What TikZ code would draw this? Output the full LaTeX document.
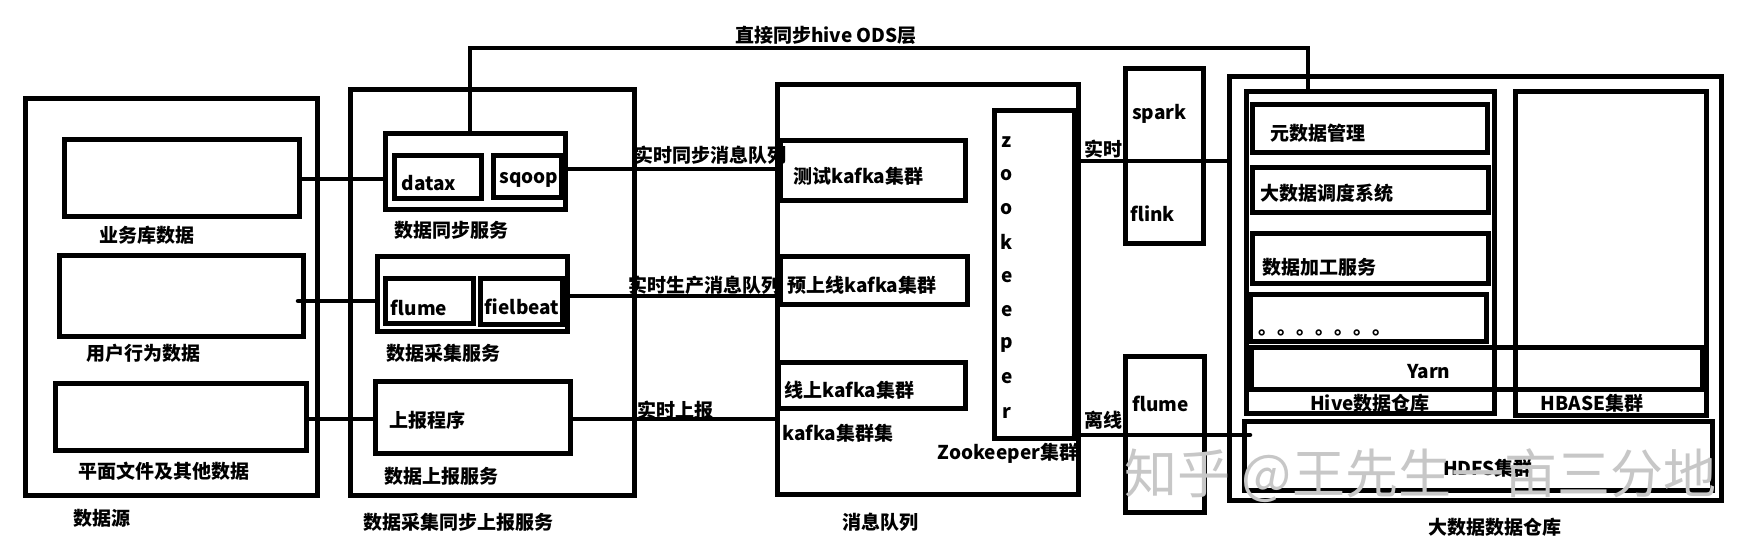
\documentclass[tikz,border=0pt]{standalone}
\usepackage{fontspec}
\setmainfont{Noto Sans CJK SC}
\newcommand\mybox[5]{\node[bx, minimum width={(#4-#2)*1pt}, minimum height={(#5-#3)*1pt}] (#1) at ({(#2+#4)/2},{(#3+#5)/2}) {};}
\begin{document}
\begin{tikzpicture}[x=1pt,y=-1pt,
  bx/.style={draw=black, line width=5pt, inner sep=0pt, outer sep=0pt, rectangle},
  conn/.style={draw=black, line width=4.5pt},
  lbl/.style={font=\bfseries\fontsize{19pt}{22pt}\selectfont, inner sep=0pt, text=black},
  wm/.style={font=\fontsize{53pt}{58pt}\selectfont, inner sep=0pt, text=black!22}]
\useasboundingbox[fill=white] (0,0) rectangle (1753,549);
% data sources
\mybox{src}{25}{98}{317}{495}
\mybox{ywk}{64}{139}{299}{216}
\mybox{yhxw}{59}{255}{303}{336}
\mybox{pmwj}{55}{383}{306}{450}
% collection services
\mybox{svc}{350}{89}{634}{495}
\mybox{tbfw}{385}{133}{565}{209}
\mybox{datax}{394}{155}{481}{198}
\mybox{sqoop}{493}{155}{561}{197}
\mybox{cjfw}{377}{256}{567}{331}
\mybox{flumea}{385}{278}{473}{323}
\mybox{fielbeat}{480}{278}{562}{324}
\mybox{sbcx}{375}{381}{570}{453}
% message queue
\mybox{mq}{777}{84}{1078}{494}
\mybox{zk}{994}{110}{1074}{438}
\mybox{csk}{780}{140}{965}{200}
\mybox{yux}{780}{256}{967}{304}
\mybox{xsk}{778}{362}{965}{408}
% compute
\mybox{spark}{1125}{68}{1203}{243}
\mybox{flumeb}{1125}{356}{1204}{512}
% warehouse
\mybox{dw}{1229}{76}{1721}{500}
\mybox{hive}{1246}{91}{1494}{413}
\mybox{hbase}{1515}{91}{1706}{415}
\mybox{meta}{1252}{104}{1487}{152}
\mybox{sched}{1252}{167}{1488}{212}
\mybox{proc}{1252}{233}{1488}{283}
\mybox{dots}{1250}{294}{1486}{341}
\mybox{yarn}{1251}{347}{1702}{389}
\mybox{hdfs}{1244}{421}{1712}{490}
% labels
\node[lbl] (l1) at (147,235) {业务库数据};
\node[lbl] (l2) at (143,353) {用户行为数据};
\node[lbl] (l3) at (164,471) {平面文件及其他数据};
\node[lbl] (l4) at (102,518) {数据源};
\node[lbl] (t1) at (429,183) {datax};
\node[lbl] (t2) at (529,180) {sqoop};
\node[lbl] (l5) at (451,230) {数据同步服务};
\node[lbl] (t3) at (419,308) {flume};
\node[lbl] (t4) at (522,307) {fielbeat};
\node[lbl] (l6) at (443,353) {数据采集服务};
\node[lbl] (t5) at (427,420) {上报程序};
\node[lbl] (l7) at (441,476) {数据上报服务};
\node[lbl] (l8) at (458,522) {数据采集同步上报服务};
\node[lbl] (e1) at (710,155) {实时同步消息队列};
\node[lbl] (e2) at (704,285) {实时生产消息队列};
\node[lbl] (e3) at (675,410) {实时上报};
\node[lbl] (e4) at (826,35) {直接同步hive ODS层};
\node[lbl, anchor=west] (t6) at (793,176) {测试kafka集群};
\node[lbl, anchor=west] (t7) at (787,285) {预上线kafka集群};
\node[lbl, anchor=west] (t8) at (784,390) {线上kafka集群};
\node[lbl, anchor=west] (t9) at (782,433) {kafka集群集};
\node[lbl] (l9) at (1008,453) {Zookeeper集群};
\node[lbl] (z1) at (1007,142) {z};
\node[lbl] (z2) at (1007,175) {o};
\node[lbl] (z3) at (1007,209) {o};
\node[lbl] (z4) at (1007,242) {k};
\node[lbl] (z5) at (1007,277) {e};
\node[lbl] (z6) at (1007,311) {e};
\node[lbl] (z7) at (1007,345) {p};
\node[lbl] (z8) at (1007,378) {e};
\node[lbl] (z9) at (1007,413) {r};
\node[lbl] (l10) at (880,522) {消息队列};
\node[lbl] (e5) at (1103,149) {实时};
\node[lbl] (e6) at (1103,420) {离线};
\node[lbl, anchor=west] (t10) at (1132,114) {spark};
\node[lbl, anchor=west] (t11) at (1130,214) {flink};
\node[lbl, anchor=west] (t12) at (1132,404) {flume};
\node[lbl] (t13) at (1318,133) {元数据管理};
\node[lbl, anchor=west] (t14) at (1260,193) {大数据调度系统};
\node[lbl, anchor=west] (t15) at (1262,267) {数据加工服务};
\node[lbl, anchor=base west] (t16) at (1258,334) {。。。。。。。};
\node[lbl] (t17) at (1429,372) {Yarn};
\node[lbl] (l11) at (1370,403) {Hive数据仓库};
\node[lbl] (l12) at (1592,403) {HBASE集群};
\node[lbl] (t18) at (1488,468) {HDFS集群};
\node[lbl] (l13) at (1495,527) {大数据数据仓库};
% connectors
\coordinate (c1) at (470,48);
\coordinate (c2) at (1308,48);
\draw[conn] (ywk.east |- 0,179) -- (tbfw.west |- 0,179);
\draw[conn, line cap=round] (cjfw.west |- 0,301) -- ([xshift=-5pt]yhxw.east |- 0,301);
\draw[conn] (pmwj.east |- 0,419) -- (sbcx.west |- 0,419);
\draw[conn] (sqoop.east |- 0,169) -- (csk.west |- 0,169);
\draw[conn] (fielbeat.east |- 0,296) -- (yux.west |- 0,296);
\draw[conn] (sbcx.east |- 0,419) -- (mq.west |- 0,419);
\draw[conn] (zk.east |- 0,161) -- (dw.west |- 0,161);
\draw[conn, line cap=round] (zk.east |- 0,435) -- ([xshift=6pt]hdfs.west |- 0,435);
\draw[conn] (tbfw.north -| c1) -- (c1) -- (c2) -- (hive.north -| c2);
% watermark
\node[wm] (w) at (1420,476) {知乎 @王先生一亩三分地};
\end{tikzpicture}
\end{document}
